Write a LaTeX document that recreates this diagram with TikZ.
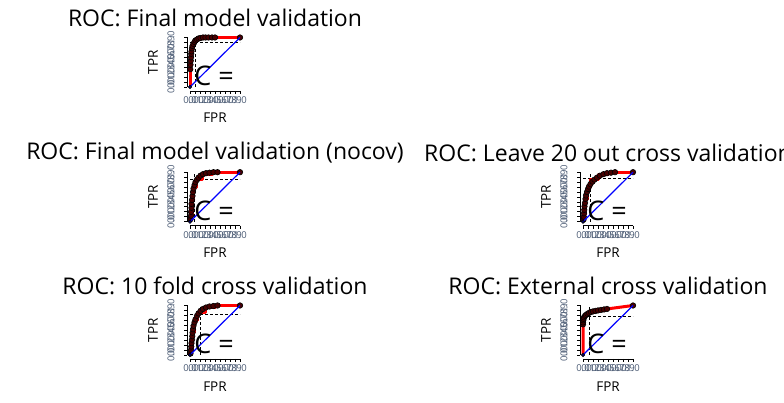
\documentclass[tikz,border=0pt]{standalone}
\usepackage{fontspec}
\setmainfont{Open Sans}
\definecolor{tickgray}{rgb}{0.30,0.36,0.46}
\definecolor{ptfill}{rgb}{0.28,0.0,0.0}
\tikzset{
  redroc/.style={draw=red, line width=3pt, line join=round},
  blueline/.style={draw=blue, line width=1.2pt},
  cutline/.style={draw=black, line width=0.6pt, dash pattern=on 3pt off 2pt},
  rocpt/.style={circle, draw=black, fill=ptfill, line width=0.6pt, inner sep=0pt, minimum size=5.5pt},
  axisline/.style={draw=black, line width=0.7pt},
  ticklab/.style={font=\fontsize{9.5}{9.5}\selectfont, text=tickgray, inner sep=0pt},
  axtitle/.style={font=\fontsize{13.5}{13.5}\selectfont, inner sep=0pt},
  ptitle/.style={font=\fontsize{23}{23}\selectfont, inner sep=0pt},
  cval/.style={font=\fontsize{27}{27}\selectfont, inner sep=0pt},
  panel/.style={x=50pt, y=49.5pt}
}
% #1 prefix, #2 title
\newcommand\rocaxes[2]{%
  \draw[axisline] (-0.06,0) -- (-0.06,1);
  \draw[axisline] (0,-0.08) -- (1,-0.08);
  \foreach \v/\l in {0/0.0,1/0.1,2/0.2,3/0.3,4/0.4,5/0.5,6/0.6,7/0.7,8/0.8,9/0.9,10/1.0}{%
    \draw[axisline] (-0.06,\v/10) -- (-0.12,\v/10);
    \draw[axisline] (\v/10,-0.08) -- (\v/10,-0.14);
    \node[ticklab, rotate=90] (#1yl\v) at (-0.38,\v/10) {\l};
    \node[ticklab] (#1xl\v) at (\v/10,-0.27) {\l};
  }
  \node[axtitle, rotate=90] (#1tpr) at (-0.74,0.5) {TPR};
  \node[axtitle] (#1fpr) at (0.5,-0.63) {FPR};
  \node[ptitle] (#1title) at (0.5,1.39) {#2};
}
\newcommand\rocfinish[1]{%
  \node[rocpt] (#1end) at (1,1) {};
  \draw[blueline] (0,0) -- (1,1);
  \node[rocpt, minimum size=3.5pt, fill=blue!40!black] (#1org) at (0,0) {};
  \node[cval] (#1c) at (0.48,0.22) {C =};
}
\begin{document}
\begin{tikzpicture}[x=1pt,y=1pt]
\useasboundingbox (0,0) rectangle (784,403);
\fill[white] (0,0) rectangle (784,403);
\clip (0,0) rectangle (784,403);

% Panel 1
\begin{scope}[shift={(190pt,316pt)}, panel]
  \rocaxes{a}{ROC: Final model validation}
  \draw[cutline] (0,0.9) -- (1,0.9);
  \draw[cutline] (0.1,0) -- (0.1,1);
  \draw[redroc] (0,0)--(0,0.62)--(0.02,0.62)--(0.02,0.76)--(0.05,0.76)--(0.05,0.88)--(0.1,0.88)--(0.1,0.95)--(0.2,0.95)--(0.2,1)--(1,1);
  \foreach \a/\b [count=\i] in {0.005/0.36,0.01/0.45,0.015/0.53,0.02/0.6,0.025/0.67,0.03/0.72,0.04/0.78,0.05/0.83,0.07/0.87,0.09/0.91,0.11/0.94,0.14/0.96,0.17/0.98,0.21/0.99,0.26/1,0.31/1,0.37/1,0.44/1,0.5/1}
    \node[rocpt] (ap\i) at (\a,\b) {};
  \rocfinish{a}
\end{scope}

% Panel 2
\begin{scope}[shift={(190pt,181.3pt)}, panel]
  \rocaxes{b}{ROC: Final model validation (nocov)}
  \draw[cutline] (0,0.86) -- (1,0.86);
  \draw[cutline] (0.08,0) -- (0.08,1);
  \draw[redroc] (0,0)--(0,0.15)--(0.04,0.15)--(0.04,0.45)--(0.07,0.45)--(0.07,0.7)--(0.12,0.7)--(0.12,0.85)--(0.25,0.85)--(0.25,0.95)--(0.45,0.95)--(0.45,1)--(1,1);
  \foreach \a/\b [count=\i] in {0.01/0.05,0.02/0.12,0.02/0.2,0.03/0.28,0.03/0.36,0.04/0.44,0.05/0.52,0.06/0.6,0.07/0.67,0.09/0.74,0.11/0.8,0.14/0.85,0.17/0.89,0.21/0.93,0.26/0.96,0.32/0.98,0.39/0.99,0.47/1,0.55/1}
    \node[rocpt] (bp\i) at (\a,\b) {};
  \rocfinish{b}
\end{scope}

% Panel 3
\begin{scope}[shift={(583pt,181.3pt)}, panel]
  \rocaxes{c}{ROC: Leave 20 out cross validation}
  \draw[cutline] (0,0.87) -- (1,0.87);
  \draw[cutline] (0.14,0) -- (0.14,1);
  \draw[redroc] (0,0)--(0,0.14)--(0.04,0.14)--(0.04,0.45)--(0.08,0.45)--(0.08,0.7)--(0.15,0.7)--(0.15,0.85)--(0.3,0.85)--(0.3,0.95)--(0.5,0.95)--(0.5,1)--(1,1);
  \foreach \a/\b [count=\i] in {0.01/0.04,0.015/0.1,0.02/0.17,0.025/0.24,0.03/0.31,0.04/0.38,0.05/0.46,0.06/0.53,0.08/0.6,0.1/0.66,0.12/0.71,0.15/0.76,0.19/0.81,0.23/0.85,0.28/0.89,0.34/0.93,0.41/0.96,0.48/0.98,0.56/0.99,0.64/1}
    \node[rocpt] (cp\i) at (\a,\b) {};
  \rocfinish{c}
\end{scope}

% Panel 4
\begin{scope}[shift={(190pt,48pt)}, panel]
  \rocaxes{d}{ROC: 10 fold cross validation}
  \draw[cutline] (0,0.82) -- (1,0.82);
  \draw[cutline] (0.21,0) -- (0.21,1);
  \draw[redroc] (0,0)--(0,0.14)--(0.04,0.14)--(0.04,0.45)--(0.08,0.45)--(0.08,0.7)--(0.15,0.7)--(0.15,0.85)--(0.3,0.85)--(0.3,0.95)--(0.5,0.95)--(0.5,1)--(1,1);
  \foreach \a/\b [count=\i] in {0.01/0.03,0.02/0.1,0.025/0.17,0.03/0.24,0.04/0.31,0.045/0.38,0.05/0.45,0.06/0.52,0.07/0.59,0.09/0.66,0.11/0.72,0.14/0.79,0.17/0.84,0.21/0.89,0.26/0.93,0.32/0.96,0.39/0.98,0.47/0.99,0.55/1}
    \node[rocpt] (dp\i) at (\a,\b) {};
  \rocfinish{d}
\end{scope}

% Panel 5
\begin{scope}[shift={(583pt,48pt)}, panel]
  \rocaxes{e}{ROC: External cross validation}
  \draw[cutline] (0,0.78) -- (1,0.78);
  \draw[cutline] (0.12,0) -- (0.12,1);
  \draw[redroc] (0,0)--(0,0.68)--(0.05,0.8)--(0.2,0.88)--(0.48,0.93)--(1,1);
  \foreach \a/\b [count=\i] in {0/0.62,0/0.66,0.005/0.7,0.01/0.73,0.02/0.76,0.04/0.79,0.06/0.81,0.09/0.83,0.12/0.85,0.16/0.87,0.2/0.88,0.25/0.89,0.3/0.9,0.36/0.91,0.42/0.92,0.48/0.93}
    \node[rocpt] (ep\i) at (\a,\b) {};
  \rocfinish{e}
\end{scope}
\end{tikzpicture}
\end{document}
